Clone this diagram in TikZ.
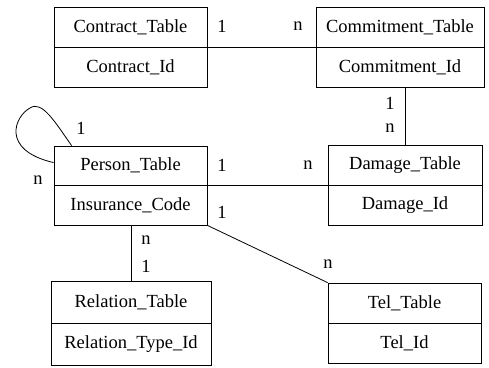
\documentclass[tikz,border=0pt]{standalone}
\usepackage{fontspec}
\setmainfont{Liberation Serif}
\begin{document}
\begin{tikzpicture}[x=1pt,y=-1pt,
  tfont/.style={font=\fontsize{18.5}{20}\selectfont},
  tbl/.style={draw, line width=0.8pt, inner sep=0pt, tfont},
  card/.style={inner sep=0pt, tfont},
  conn/.style={line width=0.8pt}]
\useasboundingbox (0,0) rectangle (489,367);
% tables
\node[tbl, minimum width=153pt, minimum height=40pt] (contract) at (130.5,27) {Contract\_Table};
\node[tbl, minimum width=153pt, minimum height=40pt] (contractid) at (130.5,67) {Contract\_Id};
\node[tbl, minimum width=168pt, minimum height=40pt] (commit) at (400,27) {Commitment\_Table};
\node[tbl, minimum width=168pt, minimum height=40pt] (commitid) at (400,67) {Commitment\_Id};
\node[tbl, minimum width=153pt, minimum height=39pt] (person) at (130.5,165.5) {Person\_Table};
\node[tbl, minimum width=153pt, minimum height=40pt] (personid) at (130.5,205) {Insurance\_Code};
\node[tbl, minimum width=154pt, minimum height=40pt] (damage) at (405,165) {Damage\_Table};
\node[tbl, minimum width=154pt, minimum height=40pt] (damageid) at (405,205) {Damage\_Id};
\node[tbl, minimum width=160pt, minimum height=42pt] (relation) at (131,302) {Relation\_Table};
\node[tbl, minimum width=160pt, minimum height=42.5pt] (relationid) at (131,344.2) {Relation\_Type\_Id};
\node[tbl, minimum width=153pt, minimum height=40pt] (tel) at (404.5,303) {Tel\_Table};
\node[tbl, minimum width=153pt, minimum height=40pt] (telid) at (404.5,343) {Tel\_Id};
% connectors
\draw[conn] (contract.south east) -- (commit.south west);
\draw[conn] (damage.north) -- (damage.north |- commitid.south);
\draw[conn] (person.south east) -- (damage.south west);
\draw[conn] (relation.north) -- (relation.north |- personid.south);
\draw[conn] (personid.south east) -- (tel.north west);
\coordinate (loopA) at ([xshift=18pt]person.north west);
\coordinate (loopB) at ([yshift=-17pt]person.north west);
\draw[conn] (loopA) .. controls (55,122) and (42,100) .. (30,108)
  .. controls (15,116) and (0,150) .. (loopB);
% cardinalities
\node[card] (c1) at (222,26) {1};
\node[card] (c2) at (298,26) {n};
\node[card] (c3) at (390,103) {1};
\node[card] (c4) at (390,128) {n};
\node[card] (c5) at (222,165) {1};
\node[card] (c6) at (308,165) {n};
\node[card] (c7) at (222,212) {1};
\node[card] (c8) at (146,240) {n};
\node[card] (c9) at (146,266) {1};
\node[card] (c10) at (328,264) {n};
\node[card] (c11) at (81,128) {1};
\node[card] (c12) at (38,180) {n};
\end{tikzpicture}
\end{document}
